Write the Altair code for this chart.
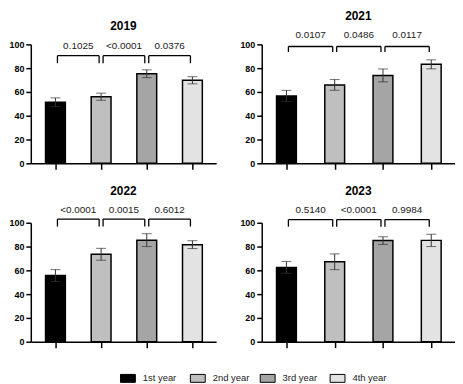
import altair as alt
import pandas as pd

# ---------------- data ----------------
PANELS = ["2019", "2021", "2022", "2023"]
GROUPS = ["1st year", "2nd year", "3rd year", "4th year"]
POSITIONS = [1, 2, 3, 4]
COLORS = ["#000000", "#bfbfbf", "#a5a5a5", "#e3e3e3"]

MEAN_2019 = [51.3, 56.0, 75.3, 69.8]
MEAN_2021 = [56.6, 65.9, 73.9, 83.2]
MEAN_2022 = [55.6, 73.5, 85.4, 81.6]
MEAN_2023 = [62.5, 67.2, 85.0, 85.2]

SD_2019 = [3.7, 3.0, 3.3, 3.0]
SD_2021 = [4.7, 4.5, 5.4, 3.8]
SD_2022 = [5.0, 5.0, 5.4, 3.3]
SD_2023 = [5.0, 6.6, 3.2, 5.2]

PVAL_2019 = ["0.1025", "<0.0001", "0.0376"]
PVAL_2021 = ["0.0107", "0.0486", "0.0117"]
PVAL_2022 = ["<0.0001", "0.0015", "0.6012"]
PVAL_2023 = ["0.5140", "<0.0001", "0.9984"]

COMP_FROM = [1, 2, 3]
COMP_TO = [2, 3, 4]

Y_TICKS = [0, 20, 40, 60, 80, 100]

MEANS = {"2019": MEAN_2019, "2021": MEAN_2021, "2022": MEAN_2022, "2023": MEAN_2023}
SDS = {"2019": SD_2019, "2021": SD_2021, "2022": SD_2022, "2023": SD_2023}
PVALS = {"2019": PVAL_2019, "2021": PVAL_2021, "2022": PVAL_2022, "2023": PVAL_2023}

# ---------------- layout / style ----------------
FONT = "Liberation Sans"
H = 120
PANEL_WIDTH = {"2019": 187, "2022": 187, "2021": 195, "2023": 195}
Y_SCALE = alt.Scale(domain=[0, 100], nice=False)
Y_AXIS = alt.Axis(values=Y_TICKS, title=None, grid=False, tickSize=5,
                  labelPadding=2, labelOverlap=False, labelFlush=False)
# bracket level, bracket leg end, p-value text level (in y units) per panel
BRACKET_LAYOUT = {
    "2019": (90.5, 84.2, 98.8),
    "2021": (98.2, 93.6, 107.7),
    "2022": (103.1, 96.9, 110.7),
    "2023": (102.7, 96.7, 110.5),
}


def yq(field):
    return alt.Y(field, type="quantitative", stack=None, scale=Y_SCALE,
                 axis=Y_AXIS)


def yd(value):
    return alt.YDatum(value, type="quantitative", scale=Y_SCALE, axis=Y_AXIS)


def panel(name):
    w = PANEL_WIDTH[name]
    step = (w - 41) / 3.0
    x_scale = alt.Scale(domain=[1 - 21 / step, 4 + 20 / step], nice=False,
                        zero=False)
    x_axis = alt.Axis(values=POSITIONS, labels=False, title=None, grid=False,
                      tickSize=6)

    def xq(field):
        return alt.X(field, type="quantitative", scale=x_scale, axis=x_axis)

    df = pd.DataFrame({
        "group": GROUPS,
        "pos": POSITIONS,
        "mean": MEANS[name],
        "sd": SDS[name],
    })
    df["lo"] = df["mean"] - df["sd"]
    df["hi"] = df["mean"] + df["sd"]

    br = pd.DataFrame({"x1": COMP_FROM, "x2": COMP_TO, "p": PVALS[name]})
    br["xm"] = (br["x1"] + br["x2"]) / 2.0
    top, leg, txt = BRACKET_LAYOUT[name]

    base = alt.Chart(df)
    bars = base.mark_bar(size=20, stroke="black", strokeWidth=1.5,
                         orient="vertical").encode(
        x=xq("pos"),
        y=yq("mean"),
        color=alt.Color(
            "group:N",
            scale=alt.Scale(domain=GROUPS, range=COLORS),
            legend=alt.Legend(
                orient="none", legendX=90, legendY=329,
                direction="horizontal", columns=4, title=None,
                symbolType="M-1,-0.533H1V0.533H-1Z", symbolSize=225,
                symbolStrokeColor="black", symbolStrokeWidth=1,
                symbolOpacity=1, labelFont=FONT, labelFontSize=9.5,
                labelColor="#222222", labelOffset=7, columnPadding=8.5,
                gridAlign="all",
            ),
        ),
    )
    whisk = base.mark_rule(color="#333333", strokeWidth=1).encode(
        x=xq("pos"), y=yq("lo"), y2="hi:Q")
    cap_hi = base.mark_tick(orient="horizontal", size=10, thickness=1,
                            color="#333333").encode(x=xq("pos"), y=yq("hi"))
    cap_lo = base.mark_tick(orient="horizontal", size=10, thickness=1,
                            color="#333333").encode(x=xq("pos"), y=yq("lo"))

    bb = alt.Chart(br)
    hline = bb.mark_rule(color="black", strokeWidth=1.3, xOffset=2,
                         x2Offset=-2).encode(
        x=xq("x1"), x2="x2:Q", y=yd(top))
    lleg = bb.mark_rule(color="black", strokeWidth=1.3, xOffset=2).encode(
        x=xq("x1"), y=yd(top), y2=alt.datum(leg))
    rleg = bb.mark_rule(color="black", strokeWidth=1.3, xOffset=-2).encode(
        x=xq("x2"), y=yd(top), y2=alt.datum(leg))
    ptxt = bb.mark_text(font=FONT, fontSize=10, color="#222222",
                        baseline="middle").encode(
        x=xq("xm"), y=yd(txt), text="p:N")

    return alt.layer(bars, whisk, cap_hi, cap_lo, hline, lleg, rleg, ptxt).properties(
        width=w, height=H,
        title=alt.TitleParams(name, font=FONT, fontSize=12, fontWeight="bold",
                              color="black", offset=7, anchor="middle"),
    )


chart = alt.concat(*[panel(p) for p in PANELS], columns=2,
                   spacing={"row": 15, "column": 23}).properties(
    padding=0
).configure_view(stroke=None).configure_axis(
    domainColor="black", domainWidth=1.5, tickColor="black", tickWidth=1.5,
    labelFont=FONT, labelFontWeight="bold", labelFontSize=9, labelColor="black",
)

chart.save("out.html", embed_options={"renderer": "svg", "actions": False})
